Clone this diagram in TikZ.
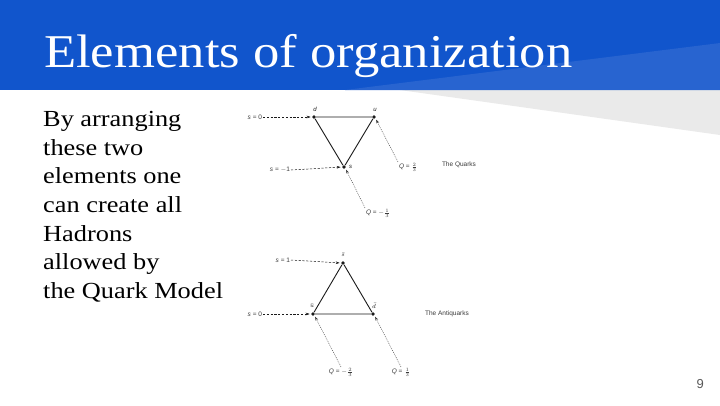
\documentclass[tikz,border=0pt]{standalone}
\usepackage{amsmath}
\usepackage{fontspec}
\setmainfont{Liberation Serif}
\newfontfamily\titlefont[FakeStretch=1.12]{Liberation Serif}
\newfontfamily\bodyfont[FakeStretch=1.145]{Liberation Serif}
\newfontfamily\figfont{Liberation Sans}
\usetikzlibrary{arrows.meta}
\definecolor{hdrblue}{HTML}{1155CC}
\definecolor{hdrlight}{HTML}{2864D0}
\definecolor{wedgegray}{HTML}{EAEAEA}
\definecolor{figink}{HTML}{1A1A1A}
\definecolor{pagenum}{HTML}{595959}
\newcommand{\qfr}[2]{\ensuremath{\genfrac{}{}{0.3pt}{}{#1}{#2}}}
\begin{document}
\begin{tikzpicture}[x=1pt,y=-1pt,
  quark/.style={circle,fill=figink,inner sep=0pt,minimum size=3.8pt},
  qname/.style={font=\figfont\fontsize{6}{6}\selectfont\itshape, text=figink, inner sep=0.5pt},
  figtext/.style={font=\figfont\fontsize{6.5}{7}\selectfont, text=figink!85, inner sep=0.8pt},
  edgeline/.style={draw=figink, line width=0.9pt},
  sarrow/.style={draw=figink, line width=0.5pt, dash pattern=on 2.2pt off 1.6pt, shorten >=1.2pt, -{Stealth[length=4pt,width=2.6pt]}},
  qarrow/.style={draw=figink!85, line width=0.45pt, dash pattern=on 0.9pt off 1.1pt, shorten >=1.2pt, -{Stealth[length=4pt,width=2.6pt]}},
  bodyline/.style={anchor=base west, inner sep=0pt, font=\bodyfont\fontsize{23}{28}\selectfont, text=black}
]
\useasboundingbox (0,0) rectangle (720,405);
\fill[white] (0,0) rectangle (720,405);
% header
\fill[wedgegray] (400,90) -- (720,90) -- (720,135) -- cycle;
\fill[hdrblue] (0,0) rectangle (720,90);
\fill[hdrlight] (345,90) -- (720,43) -- (720,90) -- cycle;
\node[anchor=base west, inner sep=0pt, text=white, font=\titlefont\fontsize{47}{50}\selectfont] (title) at (44,67) {Elements of organization};
% body text
\node[bodyline] (l1) at (43,126.7) {By arranging};
\node[bodyline] (l2) at (43,155.3) {these two};
\node[bodyline] (l3) at (43,183.9) {elements one};
\node[bodyline] (l4) at (43,212.5) {can create all};
\node[bodyline] (l5) at (43,241.1) {Hadrons};
\node[bodyline] (l6) at (43,269.7) {allowed by};
\node[bodyline] (l7) at (43,298.3) {the Quark Model};
% page number
\node[anchor=base east, inner sep=0pt, font=\figfont\fontsize{13}{14}\selectfont, text=pagenum] (pnum) at (704,388) {9};
% ---- quarks
\node[quark] (d) at (314,117) {};
\node[quark] (u) at (374,117) {};
\node[quark] (s) at (344,167) {};
\node[qname] (dl) at (315,109.5) {d};
\node[qname] (ul) at (375,109.5) {u};
\node[qname] (sl) at (350.5,167) {s};
\draw[edgeline] (d) -- (u) -- (s) -- (d);
\node[figtext, anchor=east] (s0) at (263,117) {\textit{s} = 0};
\node[figtext, anchor=east] (sm1) at (291,170) {\textit{s} = $-$1};
\node[figtext, anchor=west] (q23) at (398,167) {\textit{Q} = \qfr{2}{3}};
\node[figtext, anchor=west] (qm13) at (365,213) {\textit{Q} = $-$\qfr{1}{3}};
\node[figtext] (tq) at (459,165) {The Quarks};
\draw[sarrow] (s0.east) -- (d.west);
\draw[sarrow] (sm1.east) -- (s.west);
\draw[qarrow] (q23.north west) -- (u.south east);
\draw[qarrow] (qm13.north west) -- (s.south east);
% ---- antiquarks
\node[quark] (sb) at (343,263) {};
\node[quark] (ub) at (313,314) {};
\node[quark] (db) at (373,314) {};
\node[qname] (sbl) at (343,255) {$\bar{s}$};
\node[qname] (ubl) at (312,305.5) {$\bar{u}$};
\node[qname] (dbl) at (374,305.5) {$\bar{d}$};
\draw[edgeline] (ub) -- (db) -- (sb) -- (ub);
\node[figtext, anchor=east] (s1) at (291,260) {\textit{s} = 1};
\node[figtext, anchor=east] (s0b) at (263,314) {\textit{s} = 0};
\node[figtext] (qm23) at (341,372) {\textit{Q} = $-$\qfr{2}{3}};
\node[figtext] (q13) at (401,372) {\textit{Q} = \qfr{1}{3}};
\node[figtext] (taq) at (447,314) {The Antiquarks};
\draw[sarrow] (s1.east) -- (sb.west);
\draw[sarrow] (s0b.east) -- (ub.west);
\draw[qarrow] (qm23.north) -- (ub.south east);
\draw[qarrow] (q13.north) -- (db.south east);
\end{tikzpicture}
\end{document}
